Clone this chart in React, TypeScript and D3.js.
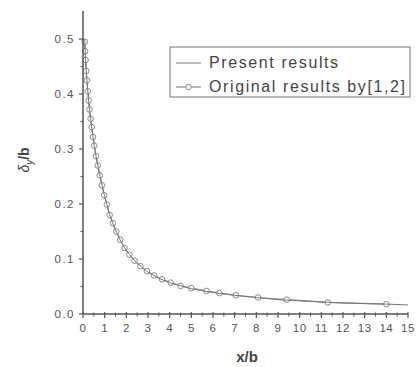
import React from 'react';
import * as d3 from 'd3';

// present results (solid line)
const presentX = [0.08, 0.1, 0.15, 0.2, 0.3, 0.4, 0.5, 0.6, 0.8, 1.0, 1.25, 1.5, 1.75, 2.0, 2.5, 3.0, 3.5, 4.0, 5, 6, 7, 8, 9, 10, 11, 12, 13, 14, 15];
const presentY = [0.5, 0.48, 0.442, 0.415, 0.372, 0.34, 0.312, 0.287, 0.248, 0.214, 0.178, 0.153, 0.132, 0.115, 0.092, 0.076, 0.065, 0.057, 0.046, 0.039, 0.034, 0.03, 0.026, 0.024, 0.022, 0.02, 0.019, 0.018, 0.0165];

// original results by [1,2] (line + circles)
const originalX = [0.08, 0.1, 0.12, 0.15, 0.18, 0.22, 0.26, 0.3, 0.35, 0.4, 0.46, 0.52, 0.6, 0.68, 0.77, 0.87, 0.98, 1.1, 1.23, 1.38, 1.54, 1.72, 1.92, 2.14, 2.38, 2.65, 2.95, 3.28, 3.65, 4.05, 4.5, 5.0, 5.7, 6.3, 7.06, 8.08, 9.4, 11.3, 14.0];
const originalY = [0.495, 0.478, 0.462, 0.442, 0.425, 0.405, 0.388, 0.372, 0.355, 0.34, 0.322, 0.306, 0.287, 0.27, 0.252, 0.234, 0.216, 0.199, 0.18, 0.165, 0.15, 0.135, 0.12, 0.108, 0.097, 0.087, 0.078, 0.07, 0.063, 0.057, 0.051, 0.047, 0.042, 0.038, 0.034, 0.03, 0.026, 0.021, 0.018];

const xTicks = d3.range(0, 16);
const yTicks = [0, 0.1, 0.2, 0.3, 0.4, 0.5];

const legendLabels = ['Present results', 'Original results by[1,2]'];

const W = 416, H = 367;
const left = 83, top = 11, right = 408, bottom = 314;

export default function App() {
  const x = d3.scaleLinear().domain([0, 15]).range([left, right]);
  const y = d3.scaleLinear().domain([0, 0.551]).range([bottom, top]);

  const line = d3.line<[number, number]>().x(d => x(d[0])).y(d => y(d[1]));
  const present: [number, number][] = presentX.map((v, i) => [v, presentY[i]]);
  const original: [number, number][] = originalX.map((v, i) => [v, originalY[i]]);

  const axisColor = '#555';
  const font = 'Liberation Sans, Arial, sans-serif';

  const xMinor = d3.range(0.5, 15, 1);
  const yMinor = [0.05, 0.15, 0.25, 0.35, 0.45];

  return (
    <svg width={W} height={H} style={{ position: 'absolute', left: 0, top: 0, background: '#fff' }}>
      {/* curves */}
      <path d={line(original) || ''} fill="none" stroke="#888" strokeWidth={1.2} />
      {original.map((d, i) => (
        <circle key={i} cx={x(d[0])} cy={y(d[1])} r={2.8} fill="#fff" stroke="#888" strokeWidth={1} />
      ))}
      <path d={line(present) || ''} fill="none" stroke="#777" strokeWidth={1} />

      {/* axes */}
      <line x1={left} x2={left} y1={top} y2={bottom} stroke={axisColor} strokeWidth={1.5} />
      <line x1={left} x2={right} y1={bottom} y2={bottom} stroke={axisColor} strokeWidth={1.5} />
      {yTicks.map(t => (
        <g key={t}>
          <line x1={left - 4} x2={left} y1={y(t)} y2={y(t)} stroke={axisColor} strokeWidth={1.2} />
          <text x={left - 8} y={y(t)} dy="0.35em" textAnchor="end" fontSize={11.5} letterSpacing={1.5}
            fontFamily={font} fill="#555">{t.toFixed(1)}</text>
        </g>
      ))}
      {yMinor.map(t => (
        <line key={t} x1={left - 2.5} x2={left} y1={y(t)} y2={y(t)} stroke={axisColor} strokeWidth={1} />
      ))}
      {xTicks.map(t => (
        <g key={t}>
          <line x1={x(t)} x2={x(t)} y1={bottom - 2} y2={bottom + 4} stroke={axisColor} strokeWidth={1.2} />
          <text x={x(t)} y={bottom + 18} textAnchor="middle" fontSize={11.5} letterSpacing={0.5}
            fontFamily={font} fill="#555">{t}</text>
        </g>
      ))}
      {xMinor.map(t => (
        <line key={t} x1={x(t)} x2={x(t)} y1={bottom - 1.5} y2={bottom + 2.5} stroke={axisColor} strokeWidth={1} />
      ))}

      {/* axis titles */}
      <text x={247} y={362} textAnchor="middle" fontSize={15} fontWeight="bold" fontFamily={font} fill="#444">x/b</text>
      <text transform="translate(29,160) rotate(-90)" textAnchor="middle" fontSize={14} fontFamily={font} fill="#444">
        <tspan fontStyle="italic">δ</tspan>
        <tspan fontSize={10} dy={4} fontStyle="italic">y</tspan>
        <tspan dy={-4} fontWeight="bold">/b</tspan>
      </text>

      {/* legend */}
      <rect x={170} y={47} width={240} height={50} fill="#fff" stroke="#777" strokeWidth={1} />
      <line x1={176} x2={201} y1={63} y2={63} stroke="#777" strokeWidth={1} />
      <line x1={176} x2={201} y1={87} y2={87} stroke="#888" strokeWidth={1.2} />
      <circle cx={188.5} cy={87} r={2.8} fill="#fff" stroke="#888" strokeWidth={1} />
      {legendLabels.map((l, i) => (
        <text key={l} x={209} y={68 + i * 24} fontSize={16} letterSpacing={1.6} fontFamily={font} fill="#444">{l}</text>
      ))}
    </svg>
  );
}
